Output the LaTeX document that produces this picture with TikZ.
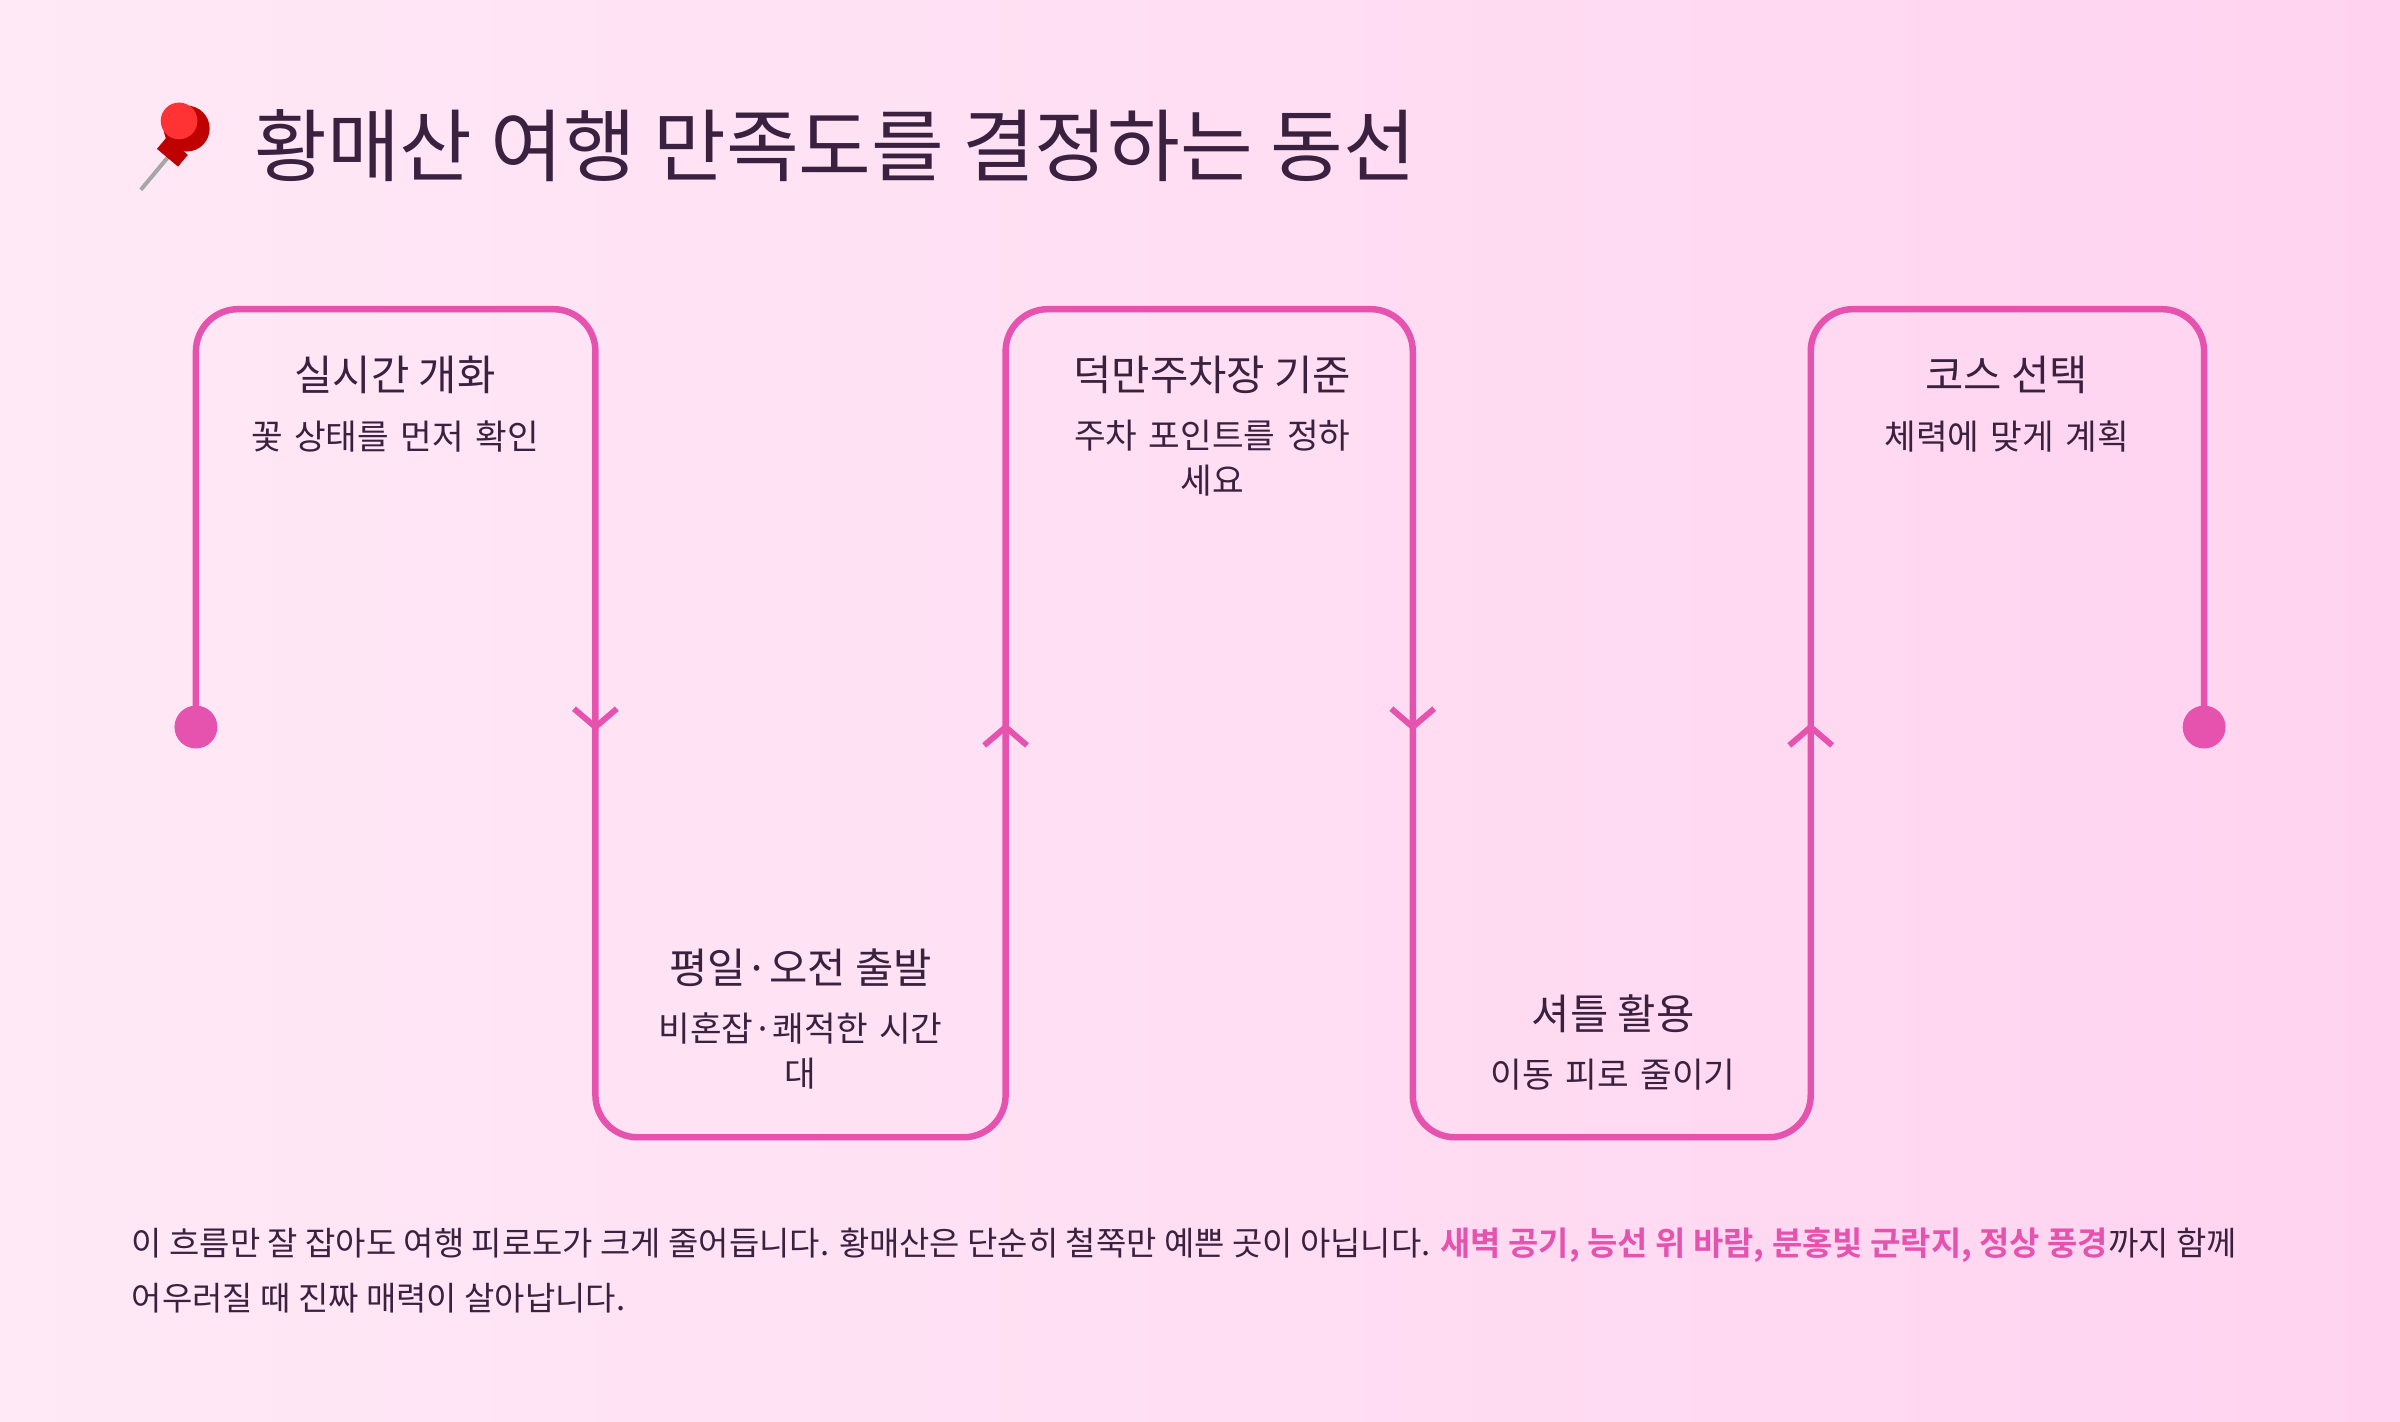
\documentclass[tikz,border=0pt]{standalone}
\usepackage{fontspec}
\setmainfont{Noto Sans CJK KR}
\newfontfamily\krbold{Noto Sans CJK KR Bold}
\usetikzlibrary{positioning,calc}
\definecolor{flowpink}{HTML}{E653AE}
\definecolor{inkdark}{HTML}{3B2140}
\definecolor{bgA}{HTML}{FFE9F6}
\definecolor{bgB}{HTML}{FFD3F0}
\tikzset{
  steptitle/.style={font=\fontsize{15.5}{18}\selectfont, text=inkdark, align=center},
  stepnote/.style={font=\fontsize{12.8}{16.5}\selectfont, text=inkdark, align=center, text width=5.4cm},
  flow/.style={flowpink, line width=2.4pt, rounded corners=0.55cm},
  chev/.style={flowpink, line width=2.2pt}
}
\begin{document}
\begin{tikzpicture}[x=0.02cm, y=-0.02cm]

% background
\shade[left color=bgA, right color=bgB] (0,0) rectangle (1568,929);
\useasboundingbox (0,0) rectangle (1568,929);

% pin and title
\fill[red!75!black] (122,84) circle (15);
\fill[red!80] (117,79) circle (12);
\draw[gray!70, line width=1.5pt] (112,100) -- (92,124);
\fill[red!75!black, rotate around={-40:(112,100)}] (103,94) rectangle (121,104);
\node[anchor=west, font=\fontsize{29.4}{34}\selectfont, text=inkdark] (title) at (160,95) {황매산 여행 만족도를 결정하는 동선};

% flow line
\coordinate (start) at (128,475);
\coordinate (finish) at (1440,475);
\draw[flow] (start) -- (128,202) -- (389,202) -- (389,743) -- (657,743) -- (657,202)
  -- (923,202) -- (923,743) -- (1183,743) -- (1183,202) -- (1440,202) -- (finish);
\fill[flowpink] (start) circle (14);
\fill[flowpink] (finish) circle (14);

% direction marks
\foreach \x/\d in {389/1, 657/-1, 923/1, 1183/-1} {
  \draw[chev] (\x-14,475-12*\d) -- (\x,475) -- (\x+14,475-12*\d);
}

% steps
\node[steptitle] (s1) at (258,245) {실시간 개화};
\node[stepnote, below=0.1cm of s1] (n1) {꽃 상태를 먼저 확인};
\node[steptitle] (s2) at (523,632) {평일·오전 출발};
\node[stepnote, below=0.1cm of s2, text width=4.2cm] (n2) {비혼잡·쾌적한 시간\\대};
\node[steptitle] (s3) at (792,245) {덕만주차장 기준};
\node[stepnote, below=0.1cm of s3, text width=4.2cm] (n3) {주차 포인트를 정하\\세요};
\node[steptitle] (s4) at (1054,662) {셔틀 활용};
\node[stepnote, below=0.1cm of s4] (n4) {이동 피로 줄이기};
\node[steptitle] (s5) at (1311,245) {코스 선택};
\node[stepnote, below=0.1cm of s5] (n5) {체력에 맞게 계획};

% summary
\node[anchor=north west, align=left, text=inkdark, font=\fontsize{12.25}{20.5}\selectfont] (summary) at (80,796)
{이 흐름만 잘 잡아도 여행 피로도가 크게 줄어듭니다. 황매산은 단순히 철쭉만 예쁜 곳이 아닙니다. {\krbold\color{flowpink}새벽 공기, 능선 위 바람, 분홍빛 군락지, 정상 풍경}까지 함께\\
어우러질 때 진짜 매력이 살아납니다.};

\end{tikzpicture}
\end{document}
